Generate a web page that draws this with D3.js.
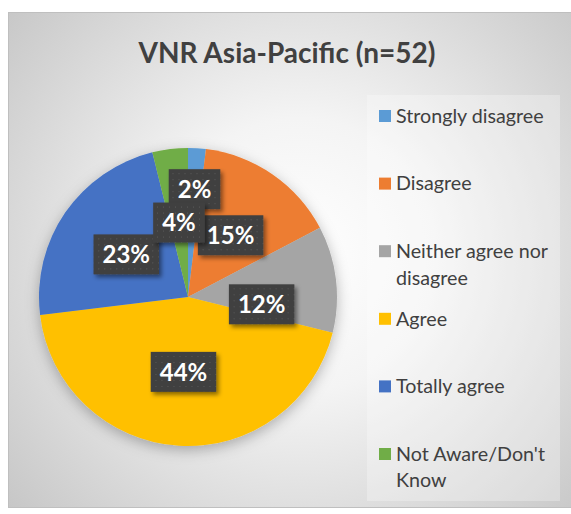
<!DOCTYPE html>
<html>
<head>
<meta charset="utf-8">
<script src="https://cdn.jsdelivr.net/npm/d3@7"></script>
<style>
  html, body { margin: 0; padding: 0; background: #ffffff; }
  svg { display: block; }
</style>
</head>
<body>
<svg id="chart" width="571" height="514"></svg>
<script>
// ---- data ----
const title = "VNR Asia-Pacific (n=52)";
const categories = ["Strongly disagree", "Disagree", "Neither agree nor disagree", "Agree", "Totally agree", "Not Aware/Don't Know"];
const counts = [1, 8, 6, 23, 12, 2];
const percentLabels = ["2%", "15%", "12%", "44%", "23%", "4%"];
const legendLines = [["Strongly disagree"], ["Disagree"], ["Neither agree nor", "disagree"], ["Agree"], ["Totally agree"], ["Not Aware/Don't", "Know"]];
const colors = ["#5B9BD5", "#ED7D31", "#A5A5A5", "#FFC000", "#4472C4", "#70AD47"];

// ---- layout ----
const W = 571, H = 514;
const svg = d3.select("#chart");
const defs = svg.append("defs");

const bg = defs.append("radialGradient").attr("id", "bg")
  .attr("gradientUnits", "userSpaceOnUse")
  .attr("cx", 300).attr("cy", 255).attr("r", 390);
bg.append("stop").attr("offset", "0").attr("stop-color", "#ffffff");
bg.append("stop").attr("offset", "0.35").attr("stop-color", "#f4f4f4");
bg.append("stop").attr("offset", "1").attr("stop-color", "#c6c6c6");

const pieShadow = defs.append("filter").attr("id", "pieShadow")
  .attr("x", "-20%").attr("y", "-20%").attr("width", "140%").attr("height", "140%");
pieShadow.append("feDropShadow").attr("dx", 0).attr("dy", 4).attr("stdDeviation", 7)
  .attr("flood-color", "#000").attr("flood-opacity", 0.28);

const lblShadow = defs.append("filter").attr("id", "lblShadow")
  .attr("x", "-30%").attr("y", "-30%").attr("width", "160%").attr("height", "160%");
lblShadow.append("feDropShadow").attr("dx", 2.5).attr("dy", 3).attr("stdDeviation", 2)
  .attr("flood-color", "#000").attr("flood-opacity", 0.45);

const dots = defs.append("pattern").attr("id", "dots")
  .attr("patternUnits", "userSpaceOnUse").attr("width", 6).attr("height", 6);
dots.append("rect").attr("width", 6).attr("height", 6).attr("fill", "#3f3f3f");
dots.append("rect").attr("x", 2).attr("y", 2).attr("width", 1).attr("height", 1).attr("fill", "#5e5e5e");

// frame
svg.append("rect").attr("x", 8.5).attr("y", 12.5).attr("width", W - 8).attr("height", 495)
  .attr("fill", "url(#bg)").attr("stroke", "#bfbfbf").attr("stroke-width", 1);

// title
svg.append("text").attr("x", 287).attr("y", 63).attr("text-anchor", "middle")
  .attr("font-family", "Lato, 'Open Sans', sans-serif").attr("font-weight", "bold")
  .attr("font-size", 28).attr("fill", "#404040").text(title);

// legend background
svg.append("rect").attr("x", 367).attr("y", 95).attr("width", 193).attr("height", 406)
  .attr("fill", "#ffffff").attr("fill-opacity", 0.28);

// pie
const cx = 188, cy = 297, R = 149;
const pie = d3.pie().sort(null).value(d => d)(counts);
const arc = d3.arc().innerRadius(0).outerRadius(R);
const g = svg.append("g").attr("transform", `translate(${cx},${cy})`);
g.append("g").attr("filter", "url(#pieShadow)")
  .selectAll("path").data(pie).join("path")
  .attr("d", arc).attr("fill", (d, i) => colors[i]);

// labels (best-fit style nudges)
const labelRadius = [108, 75, 74, 75, 75, 75];
const labelAngleShift = [0, 0, 0.22, 0, 0, 0];
const lg = g.append("g");
pie.forEach((d, i) => {
  const a = (d.startAngle + d.endAngle) / 2 + labelAngleShift[i];
  const x = Math.sin(a) * labelRadius[i];
  const y = -Math.cos(a) * labelRadius[i];
  const grp = lg.append("g").attr("transform", `translate(${x},${y})`);
  const rect = grp.append("rect").attr("fill", "url(#dots)").attr("filter", "url(#lblShadow)");
  const t = grp.append("text").attr("text-anchor", "middle").attr("dy", "0.36em")
    .attr("font-family", "Lato, 'Open Sans', sans-serif").attr("font-weight", "bold")
    .attr("font-size", 24).attr("fill", "#ffffff").text(percentLabels[i]);
  const tw = t.node().getComputedTextLength();
  const bw = tw + 18, bh = 40;
  rect.attr("x", -bw / 2).attr("y", -bh / 2).attr("width", bw).attr("height", bh);
});

// legend
const legY0 = 116, legStep = 67.6, lineH = 26.5;
const leg = svg.append("g");
categories.forEach((c, i) => {
  const y = legY0 + i * legStep;
  leg.append("rect").attr("x", 379).attr("y", y - 6).attr("width", 12).attr("height", 12)
    .attr("fill", colors[i]);
  const t = leg.append("text").attr("x", 396).attr("y", y)
    .attr("font-family", "Lato, 'Open Sans', sans-serif").attr("font-size", 19.7)
    .attr("fill", "#404040");
  legendLines[i].forEach((ln, j) => {
    t.append("tspan").attr("x", 396).attr("y", y + j * lineH).attr("dy", "0.35em").text(ln);
  });
});
</script>
</body>
</html>
